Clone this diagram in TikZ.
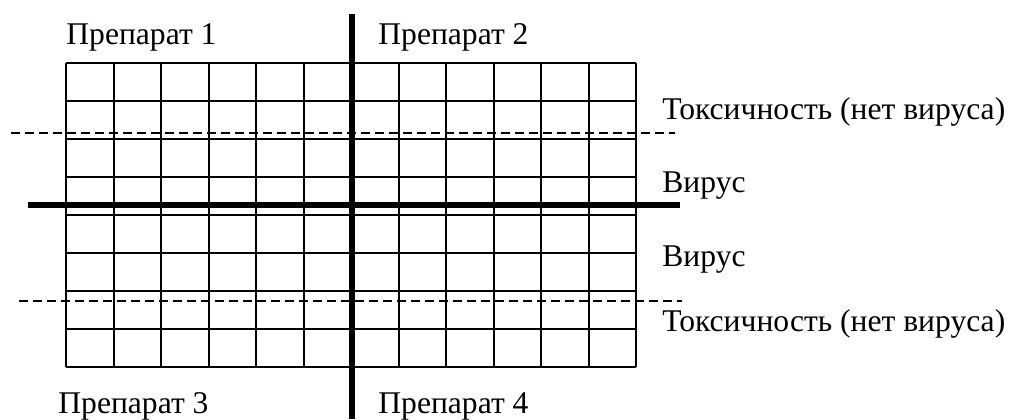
\documentclass[tikz,border=0pt]{standalone}
\usepackage{fontspec}
\setmainfont{Liberation Serif}
\usepackage{tikz}
\usetikzlibrary{positioning}

\begin{document}
\begin{tikzpicture}[
    x=0.5pt, y=-0.5pt,
    gridline/.style={line width=1pt},
    axisline/.style={line width=3pt},
    splitline/.style={line width=0.75pt, dash pattern=on 4.5pt off 2.5pt},
    lbl/.style={anchor=base west, inner sep=0pt, font=\fontsize{15.8}{18}\selectfont}
]
\useasboundingbox (0,0) rectangle (1014,419);

% Plate grid (12 x 8 wells)
\foreach \i in {0,...,12}
    \draw[gridline] (66+47.5*\i,63) -- (66+47.5*\i,367);
\foreach \j in {0,...,8}
    \draw[gridline] (66,63+38*\j) -- (636,63+38*\j);

% Toxicity borders
\draw[splitline] (11,133) -- (675,133);
\draw[splitline] (19,301) -- (682,301);

% Quadrant dividers
\draw[axisline] (352,14) -- (352,419);
\draw[axisline] (28,205) -- (680,205);

% Drug labels
\node[lbl] (P1) at (66,44) {Препарат 1};
\node[lbl] (P2) at (378,44) {Препарат 2};
\node[lbl] (P3) at (58,413) {Препарат 3};
\node[lbl] (P4) at (378,413) {Препарат 4};

% Row labels
\node[lbl] (T1) at (662,119) {Токсичность (нет вируса)};
\node[lbl] (V1) at (662,192) {Вирус};
\node[lbl] (V2) at (662,266) {Вирус};
\node[lbl] (T2) at (662,331) {Токсичность (нет вируса)};

\end{tikzpicture}
\end{document}
